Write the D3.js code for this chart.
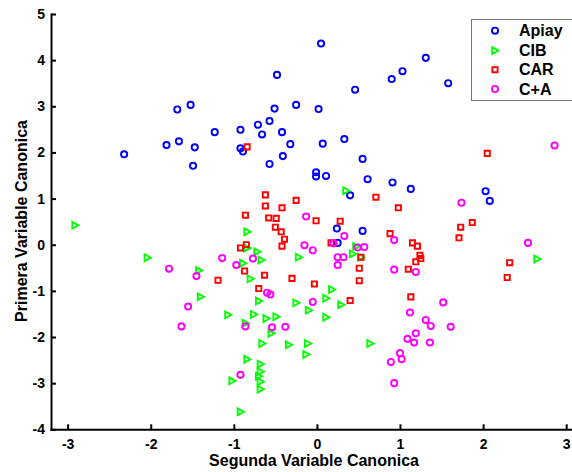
<!DOCTYPE html>
<html>
<head>
<meta charset="utf-8">
<script src="https://cdn.jsdelivr.net/npm/d3@7"></script>
<style>
  html, body { margin: 0; padding: 0; background: #fff; }
  svg { display: block; font-family: "Liberation Sans", Arial, sans-serif; }
  .axis path, .axis line { stroke: #000; stroke-width: 2; }
  .axis text { font-size: 14px; font-weight: bold; fill: #000; }
</style>
</head>
<body>
<svg id="chart" width="572" height="472"></svg>
<script>
// Canonical scores per group: x = second canonical variable, y = first canonical variable
const apiayX = [-2.32,-1.81,-1.66,-1.47,-1.68,-1.52,-1.49,-1.23,-0.92,-0.92,-0.89,-0.71,-0.66,-0.57,-0.51,-0.48,-0.42,-0.41,-0.32,-0.25,0.02,0.05,0.07,0.33,0.46,0.55,-0.57,-0.01,-0.01,0.11,0.61,0.40,0.24,0.55,0.25,0.91,1.13,2.03,2.08,0.90,1.03,1.31,1.58];
const apiayY = [1.96,2.16,2.24,2.11,2.93,3.03,1.71,2.44,2.49,2.09,2.02,2.60,2.39,2.68,2.95,3.68,2.44,1.92,2.18,3.03,2.94,4.36,2.19,2.29,3.36,1.86,1.75,1.57,1.48,1.49,1.42,1.07,0.35,0.30,0.04,1.35,1.21,1.16,0.95,3.59,3.76,4.05,3.50];

const cibX = [-2.91,-2.04,-1.42,-1.40,-0.84,-0.84,-0.72,-0.67,-0.89,-0.80,-0.22,0.35,0.43,0.47,0.53,0.18,0.11,-0.25,-0.70,-0.10,0.29,-1.07,-0.76,-0.61,-0.49,-0.86,0.11,-0.55,-0.66,-0.34,-0.11,-0.13,0.64,-0.84,-0.68,-0.68,-0.70,-0.68,-0.68,-1.02,-0.92,2.65];
const cibY = [0.42,-0.28,-0.56,-1.13,0.28,-0.07,-0.15,-0.33,-0.40,-0.74,-0.27,1.17,-0.20,-0.04,-0.27,-0.97,-1.16,-1.26,-1.22,-1.42,-1.30,-1.52,-1.51,-1.60,-1.56,-1.70,-1.57,-1.92,-2.14,-2.17,-2.14,-2.38,-2.14,-2.48,-2.59,-2.75,-2.85,-2.97,-3.13,-2.95,-3.62,-0.31];

const carX = [-0.84,2.05,-0.62,-0.62,-0.42,-0.25,-0.86,-0.58,-0.49,-0.50,-0.43,-0.39,-0.42,-0.01,0.28,0.71,0.17,-0.85,-0.92,-0.87,-1.19,-0.63,-0.30,-0.70,-0.03,0.53,0.51,0.51,0.40,0.98,0.88,1.15,1.21,1.24,1.25,1.19,1.10,1.13,1.73,1.87,1.71,2.32,2.29];
const carY = [2.12,1.98,1.08,0.84,0.80,0.96,0.64,0.58,0.57,0.38,0.28,0.12,-0.03,0.52,0.51,1.03,0.04,0.00,-0.07,-0.57,-0.77,-0.66,-0.73,-0.95,-0.85,-0.27,-0.51,-0.78,-1.21,0.80,0.24,0.04,-0.03,-0.23,-0.30,-0.37,-0.53,-1.13,0.38,0.48,0.15,-0.39,-0.71];

const caX = [-1.78,-1.45,-1.55,-1.63,-0.13,0.33,0.20,-0.15,-0.05,0.25,0.32,0.25,0.49,0.57,-1.14,-0.77,-0.97,-0.60,-0.56,-0.05,1.74,0.93,0.93,1.19,2.54,2.86,-0.86,-0.54,-0.38,-0.92,1.52,1.12,1.31,1.37,1.61,1.19,1.09,1.17,1.36,1.00,1.02,0.89,0.93];
const caY = [-0.52,-0.68,-1.34,-1.77,0.61,0.19,0.03,-0.01,-0.12,-0.27,-0.27,-0.44,-0.06,-0.05,-0.29,-0.30,-0.44,-1.04,-1.08,-1.24,0.91,0.10,-0.54,-0.59,0.04,2.15,-1.77,-1.79,-1.78,-2.82,-1.25,-1.47,-1.63,-1.76,-1.78,-1.92,-2.04,-2.12,-2.12,-2.35,-2.48,-2.54,-3.00];

const groupNames = ["Apiay", "CIB", "CAR", "C+A"];
const groupColors = ["#0000ff", "#00ff00", "#ff0000", "#ff00ff"];
const groupShapes = ["circle", "triangle", "square", "circle"];

const xTicks = [-3, -2, -1, 0, 1, 2, 3];
const yTicks = [-4, -3, -2, -1, 0, 1, 2, 3, 4, 5];
const xTitle = "Segunda Variable Canonica";
const yTitle = "Primera Variable Canonica";

const groups = [
  { xs: apiayX, ys: apiayY },
  { xs: cibX, ys: cibY },
  { xs: carX, ys: carY },
  { xs: caX, ys: caY }
].map((g, i) => ({
  name: groupNames[i],
  color: groupColors[i],
  shape: groupShapes[i],
  points: g.xs.map((x, j) => ({ x, y: g.ys[j] }))
}));

const svg = d3.select("#chart");
const x = d3.scaleLinear().domain([-3.2, 3.1]).range([51, 574.5]);
const y = d3.scaleLinear().domain([-4, 5]).range([429.3, 14]);

// marker path generators, centred on (0,0)
function markerPath(shape) {
  if (shape === "circle") {
    const r = 3.1;
    return `M${-r},0a${r},${r} 0 1,0 ${2 * r},0a${r},${r} 0 1,0 ${-2 * r},0Z`;
  }
  if (shape === "square") {
    const s = 2.6;
    return `M${-s},${-s}H${s}V${s}H${-s}Z`;
  }
  // triangle pointing right
  return "M-2.8,-3.4L3.4,0L-2.8,3.4Z";
}

// axes
const xAxis = d3.axisBottom(x).tickValues(xTicks).tickSizeInner(-5).tickSizeOuter(0).tickPadding(10)
  .tickFormat(d3.format("d"));
const yAxis = d3.axisLeft(y).tickValues(yTicks).tickSizeInner(-5).tickSizeOuter(0).tickPadding(6)
  .tickFormat(d3.format("d"));

svg.append("g").attr("class", "axis x").attr("transform", `translate(0,${y(-4)})`).call(xAxis)
  .selectAll("text").attr("font-family", null);
svg.append("g").attr("class", "axis y").attr("transform", `translate(${x(-3.2)},0)`).call(yAxis)
  .selectAll("text").attr("font-family", null);
svg.selectAll(".axis .domain").attr("stroke-linecap", "square");
svg.selectAll(".axis").attr("font-family", null).attr("font-size", null);
svg.selectAll(".axis text").text(d => d3.format("d")(d).replace("−", "-"));

// axis titles
svg.append("text")
  .attr("x", 314).attr("y", 466)
  .attr("text-anchor", "middle")
  .attr("font-size", 16).attr("font-weight", "bold")
  .text(xTitle);
svg.append("text")
  .attr("transform", `translate(27,${221}) rotate(-90)`)
  .attr("text-anchor", "middle")
  .attr("font-size", 16).attr("font-weight", "bold")
  .text(yTitle);

// points
groups.forEach(g => {
  svg.append("g").attr("class", "series")
    .selectAll("path")
    .data(g.points)
    .join("path")
    .attr("transform", d => `translate(${x(d.x)},${y(d.y)})`)
    .attr("d", markerPath(g.shape))
    .attr("fill", "none")
    .attr("stroke", g.color)
    .attr("stroke-width", 1.9);
});

// legend
const legend = svg.append("g").attr("class", "legend");
legend.append("rect")
  .attr("x", 471.5).attr("y", 19.5)
  .attr("width", 110).attr("height", 81)
  .attr("fill", "#fff").attr("stroke", "#777").attr("stroke-width", 1);
const rowY = [30.7, 50.5, 69.7, 89];
groups.forEach((g, i) => {
  legend.append("path")
    .attr("transform", `translate(495,${rowY[i]})`)
    .attr("d", markerPath(g.shape))
    .attr("fill", "none").attr("stroke", g.color).attr("stroke-width", 1.9);
  legend.append("text")
    .attr("x", 519).attr("y", rowY[i]).attr("dy", "0.36em")
    .attr("font-size", 16).attr("font-weight", "bold")
    .text(g.name);
});
</script>
</body>
</html>
